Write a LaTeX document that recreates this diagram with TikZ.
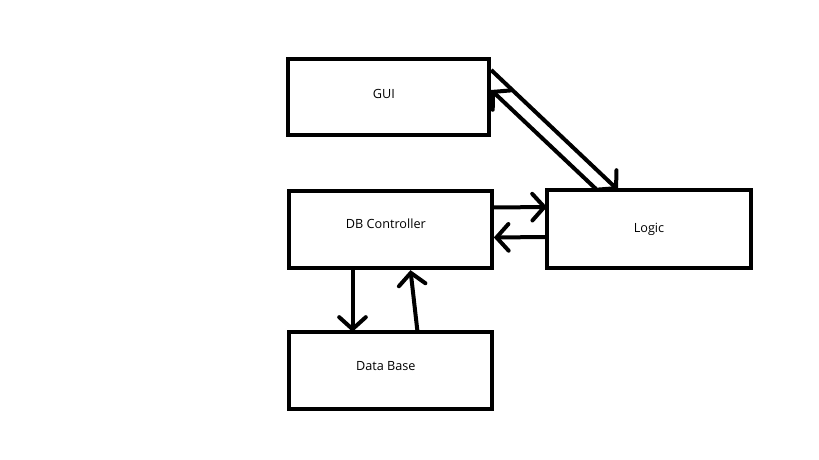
\documentclass[tikz,border=0pt]{standalone}
\usepackage{fontspec}
\setmainfont{Open Sans}
\usetikzlibrary{arrows.meta}
\begin{document}
\begin{tikzpicture}[x=0.75pt,y=-0.75pt,
  box/.style={draw=black,line width=3pt,outer sep=0pt,inner sep=0pt,font=\fontsize{9.5}{11}\selectfont},
  arr/.style={line width=3pt,-{Straight Barb[length=9pt,width=20pt,line cap=round]}}]
\useasboundingbox[fill=white] (0,0) rectangle (819,460);
\node[box,minimum width=151pt,minimum height=57pt] (gui) at (388.5,97) {\raisebox{2.25pt}[\height][\depth]{GUI\hspace{7pt}}};
\node[box,minimum width=152pt,minimum height=58pt] (dbc) at (390.5,229.5) {\raisebox{4pt}[\height][\depth]{DB Controller\hspace{7pt}}};
\node[box,minimum width=153pt,minimum height=58.5pt] (logic) at (649,229) {Logic};
\node[box,minimum width=152pt,minimum height=58pt] (data) at (390.5,370.5) {\raisebox{3.4pt}[\height][\depth]{Data Base\hspace{7pt}}};
\draw[arr] ([shift={(2,11)}]gui.north east) -- ([shift={(-31,0)}]logic.north);
\draw[arr] ([shift={(-53,-1)}]logic.north) -- ([shift={(2,31)}]gui.north east);
\draw[arr] ([shift={(2,-22)}]dbc.east) -- ([shift={(0,-22)}]logic.west);
\draw[arr] ([shift={(0,8)}]logic.west) -- ([shift={(2,8)}]dbc.east);
\draw[arr] ([shift={(-38,2)}]dbc.south) -- ([shift={(-38,0)}]data.north);
\draw[arr] ([shift={(27,0)}]data.north) -- ([shift={(20,2)}]dbc.south);
\end{tikzpicture}
\end{document}
